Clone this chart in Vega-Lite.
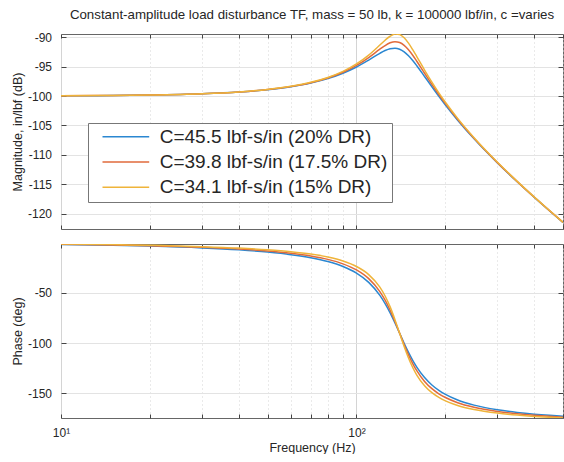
{
  "$schema": "https://vega.github.io/schema/vega-lite/v6.json",
  "padding": {"left": 11, "top": 7, "right": 0, "bottom": 0},
  "background": "white",
  "config": {
    "view": {"stroke": "#666666", "strokeWidth": 1},
    "axis": {"labelFont": "Liberation Sans", "titleFont": "Liberation Sans", "labelColor": "#262626", "titleColor": "#262626", "titleFontWeight": "normal", "labelFontSize": 12, "titleFontSize": 12.5},
    "legend": {"labelFont": "Liberation Sans"}
  },
  "data": {"values": [
    {"s":"C=45.5 lbf-s/in (20% DR)","f":10,"m":-99.959,"p":-1.65},
    {"s":"C=45.5 lbf-s/in (20% DR)","f":15,"m":-99.908,"p":-2.49},
    {"s":"C=45.5 lbf-s/in (20% DR)","f":20,"m":-99.835,"p":-3.34},
    {"s":"C=45.5 lbf-s/in (20% DR)","f":30,"m":-99.626,"p":-5.14},
    {"s":"C=45.5 lbf-s/in (20% DR)","f":40,"m":-99.326,"p":-7.10},
    {"s":"C=45.5 lbf-s/in (20% DR)","f":50,"m":-98.927,"p":-9.31},
    {"s":"C=45.5 lbf-s/in (20% DR)","f":60,"m":-98.421,"p":-11.88},
    {"s":"C=45.5 lbf-s/in (20% DR)","f":70,"m":-97.795,"p":-14.96},
    {"s":"C=45.5 lbf-s/in (20% DR)","f":80,"m":-97.033,"p":-18.78},
    {"s":"C=45.5 lbf-s/in (20% DR)","f":90,"m":-96.123,"p":-23.72},
    {"s":"C=45.5 lbf-s/in (20% DR)","f":100,"m":-95.061,"p":-30.33},
    {"s":"C=45.5 lbf-s/in (20% DR)","f":110,"m":-93.882,"p":-39.52},
    {"s":"C=45.5 lbf-s/in (20% DR)","f":120,"m":-92.728,"p":-52.45},
    {"s":"C=45.5 lbf-s/in (20% DR)","f":125,"m":-92.261,"p":-60.63},
    {"s":"C=45.5 lbf-s/in (20% DR)","f":130,"m":-91.952,"p":-69.90},
    {"s":"C=45.5 lbf-s/in (20% DR)","f":135,"m":-91.868,"p":-79.97},
    {"s":"C=45.5 lbf-s/in (20% DR)","f":140,"m":-92.050,"p":-90.29},
    {"s":"C=45.5 lbf-s/in (20% DR)","f":145,"m":-92.494,"p":-100.23},
    {"s":"C=45.5 lbf-s/in (20% DR)","f":150,"m":-93.152,"p":-109.30},
    {"s":"C=45.5 lbf-s/in (20% DR)","f":155,"m":-93.955,"p":-117.24},
    {"s":"C=45.5 lbf-s/in (20% DR)","f":160,"m":-94.839,"p":-124.00},
    {"s":"C=45.5 lbf-s/in (20% DR)","f":170,"m":-96.668,"p":-134.48},
    {"s":"C=45.5 lbf-s/in (20% DR)","f":180,"m":-98.425,"p":-141.89},
    {"s":"C=45.5 lbf-s/in (20% DR)","f":190,"m":-100.044,"p":-147.27},
    {"s":"C=45.5 lbf-s/in (20% DR)","f":200,"m":-101.520,"p":-151.30},
    {"s":"C=45.5 lbf-s/in (20% DR)","f":220,"m":-104.099,"p":-156.89},
    {"s":"C=45.5 lbf-s/in (20% DR)","f":250,"m":-107.267,"p":-161.96},
    {"s":"C=45.5 lbf-s/in (20% DR)","f":300,"m":-111.368,"p":-166.60},
    {"s":"C=45.5 lbf-s/in (20% DR)","f":350,"m":-114.578,"p":-169.23},
    {"s":"C=45.5 lbf-s/in (20% DR)","f":400,"m":-117.231,"p":-170.95},
    {"s":"C=45.5 lbf-s/in (20% DR)","f":450,"m":-119.500,"p":-172.16},
    {"s":"C=45.5 lbf-s/in (20% DR)","f":500,"m":-121.487,"p":-173.08},
    {"s":"C=39.8 lbf-s/in (17.5% DR)","f":10,"m":-99.958,"p":-1.44},
    {"s":"C=39.8 lbf-s/in (17.5% DR)","f":15,"m":-99.906,"p":-2.18},
    {"s":"C=39.8 lbf-s/in (17.5% DR)","f":20,"m":-99.832,"p":-2.93},
    {"s":"C=39.8 lbf-s/in (17.5% DR)","f":30,"m":-99.618,"p":-4.50},
    {"s":"C=39.8 lbf-s/in (17.5% DR)","f":40,"m":-99.310,"p":-6.22},
    {"s":"C=39.8 lbf-s/in (17.5% DR)","f":50,"m":-98.901,"p":-8.16},
    {"s":"C=39.8 lbf-s/in (17.5% DR)","f":60,"m":-98.378,"p":-10.43},
    {"s":"C=39.8 lbf-s/in (17.5% DR)","f":70,"m":-97.726,"p":-13.16},
    {"s":"C=39.8 lbf-s/in (17.5% DR)","f":80,"m":-96.926,"p":-16.57},
    {"s":"C=39.8 lbf-s/in (17.5% DR)","f":90,"m":-95.955,"p":-21.02},
    {"s":"C=39.8 lbf-s/in (17.5% DR)","f":100,"m":-94.794,"p":-27.11},
    {"s":"C=39.8 lbf-s/in (17.5% DR)","f":110,"m":-93.449,"p":-35.81},
    {"s":"C=39.8 lbf-s/in (17.5% DR)","f":120,"m":-92.035,"p":-48.70},
    {"s":"C=39.8 lbf-s/in (17.5% DR)","f":125,"m":-91.409,"p":-57.24},
    {"s":"C=39.8 lbf-s/in (17.5% DR)","f":130,"m":-90.946,"p":-67.31},
    {"s":"C=39.8 lbf-s/in (17.5% DR)","f":135,"m":-90.748,"p":-78.57},
    {"s":"C=39.8 lbf-s/in (17.5% DR)","f":140,"m":-90.890,"p":-90.33},
    {"s":"C=39.8 lbf-s/in (17.5% DR)","f":145,"m":-91.376,"p":-101.66},
    {"s":"C=39.8 lbf-s/in (17.5% DR)","f":150,"m":-92.135,"p":-111.81},
    {"s":"C=39.8 lbf-s/in (17.5% DR)","f":155,"m":-93.065,"p":-120.47},
    {"s":"C=39.8 lbf-s/in (17.5% DR)","f":160,"m":-94.076,"p":-127.63},
    {"s":"C=39.8 lbf-s/in (17.5% DR)","f":170,"m":-96.117,"p":-138.30},
    {"s":"C=39.8 lbf-s/in (17.5% DR)","f":180,"m":-98.019,"p":-145.54},
    {"s":"C=39.8 lbf-s/in (17.5% DR)","f":190,"m":-99.736,"p":-150.64},
    {"s":"C=39.8 lbf-s/in (17.5% DR)","f":200,"m":-101.279,"p":-154.39},
    {"s":"C=39.8 lbf-s/in (17.5% DR)","f":220,"m":-103.939,"p":-159.52},
    {"s":"C=39.8 lbf-s/in (17.5% DR)","f":250,"m":-107.168,"p":-164.09},
    {"s":"C=39.8 lbf-s/in (17.5% DR)","f":300,"m":-111.313,"p":-168.22},
    {"s":"C=39.8 lbf-s/in (17.5% DR)","f":350,"m":-114.543,"p":-170.55},
    {"s":"C=39.8 lbf-s/in (17.5% DR)","f":400,"m":-117.206,"p":-172.06},
    {"s":"C=39.8 lbf-s/in (17.5% DR)","f":450,"m":-119.481,"p":-173.13},
    {"s":"C=39.8 lbf-s/in (17.5% DR)","f":500,"m":-121.472,"p":-173.94},
    {"s":"C=34.1 lbf-s/in (15% DR)","f":10,"m":-99.957,"p":-1.24},
    {"s":"C=34.1 lbf-s/in (15% DR)","f":15,"m":-99.904,"p":-1.86},
    {"s":"C=34.1 lbf-s/in (15% DR)","f":20,"m":-99.829,"p":-2.51},
    {"s":"C=34.1 lbf-s/in (15% DR)","f":30,"m":-99.611,"p":-3.86},
    {"s":"C=34.1 lbf-s/in (15% DR)","f":40,"m":-99.297,"p":-5.34},
    {"s":"C=34.1 lbf-s/in (15% DR)","f":50,"m":-98.877,"p":-7.01},
    {"s":"C=34.1 lbf-s/in (15% DR)","f":60,"m":-98.340,"p":-8.96},
    {"s":"C=34.1 lbf-s/in (15% DR)","f":70,"m":-97.666,"p":-11.33},
    {"s":"C=34.1 lbf-s/in (15% DR)","f":80,"m":-96.832,"p":-14.31},
    {"s":"C=34.1 lbf-s/in (15% DR)","f":90,"m":-95.804,"p":-18.24},
    {"s":"C=34.1 lbf-s/in (15% DR)","f":100,"m":-94.547,"p":-23.69},
    {"s":"C=34.1 lbf-s/in (15% DR)","f":110,"m":-93.035,"p":-31.74},
    {"s":"C=34.1 lbf-s/in (15% DR)","f":120,"m":-91.331,"p":-44.29},
    {"s":"C=34.1 lbf-s/in (15% DR)","f":125,"m":-90.507,"p":-53.11},
    {"s":"C=34.1 lbf-s/in (15% DR)","f":130,"m":-89.834,"p":-63.99},
    {"s":"C=34.1 lbf-s/in (15% DR)","f":135,"m":-89.470,"p":-76.73},
    {"s":"C=34.1 lbf-s/in (15% DR)","f":140,"m":-89.551,"p":-90.38},
    {"s":"C=34.1 lbf-s/in (15% DR)","f":145,"m":-90.100,"p":-103.53},
    {"s":"C=34.1 lbf-s/in (15% DR)","f":150,"m":-91.007,"p":-115.03},
    {"s":"C=34.1 lbf-s/in (15% DR)","f":155,"m":-92.112,"p":-124.47},
    {"s":"C=34.1 lbf-s/in (15% DR)","f":160,"m":-93.286,"p":-131.97},
    {"s":"C=34.1 lbf-s/in (15% DR)","f":170,"m":-95.574,"p":-142.63},
    {"s":"C=34.1 lbf-s/in (15% DR)","f":180,"m":-97.633,"p":-149.53},
    {"s":"C=34.1 lbf-s/in (15% DR)","f":190,"m":-99.450,"p":-154.23},
    {"s":"C=34.1 lbf-s/in (15% DR)","f":200,"m":-101.058,"p":-157.68},
    {"s":"C=34.1 lbf-s/in (15% DR)","f":220,"m":-103.795,"p":-162.25},
    {"s":"C=34.1 lbf-s/in (15% DR)","f":250,"m":-107.081,"p":-166.27},
    {"s":"C=34.1 lbf-s/in (15% DR)","f":300,"m":-111.265,"p":-169.87},
    {"s":"C=34.1 lbf-s/in (15% DR)","f":350,"m":-114.511,"p":-171.88},
    {"s":"C=34.1 lbf-s/in (15% DR)","f":400,"m":-117.184,"p":-173.19},
    {"s":"C=34.1 lbf-s/in (15% DR)","f":450,"m":-119.464,"p":-174.11},
    {"s":"C=34.1 lbf-s/in (15% DR)","f":500,"m":-121.459,"p":-174.80}
  ]},
  "spacing": 13,
  "resolve": {"legend": {"color": "independent"}},
  "vconcat": [
    {
      "width": 502,
      "height": 195,
      "title": {"text": "Constant-amplitude load disturbance TF, mass = 50 lb, k = 100000 lbf/in, c =varies", "font": "Liberation Sans", "fontSize": 13.3, "fontWeight": "normal", "color": "#262626", "offset": 10},
      "layer": [
        {
          "mark": {"type": "line", "strokeWidth": 1.5, "clip": true, "interpolate": "monotone"},
          "encoding": {
            "x": {"field": "f", "type": "quantitative", "scale": {"type": "log", "domain": [10, 500], "nice": false},
              "axis": {"orient": "bottom", "values": [10,20,30,40,50,60,70,80,90,100,200,300,400,500], "labels": false, "title": null, "domain": false, "tickSize": -4, "tickColor": "#444444", "grid": true, "gridColor": "#d4d4d4",
                "gridDash": {"condition": {"test": "datum.value == 100 || datum.value == 10", "value": []}, "value": [1, 3]}}},
            "y": {"field": "m", "type": "quantitative", "scale": {"domain": [-122.6, -89.45], "nice": false, "zero": false},
              "axis": {"orient": "left", "values": [-120,-115,-110,-105,-100,-95,-90], "labelExpr": "replace(datum.label, '−', '-')", "title": "Magnitude, in/lbf (dB)", "domain": false, "tickSize": -5, "tickColor": "#444444", "labelPadding": 14.5, "titlePadding": 2.5, "grid": true, "gridColor": "#e3e3e3"}},
            "color": {"field": "s", "type": "nominal",
              "scale": {"domain": ["C=45.5 lbf-s/in (20% DR)", "C=39.8 lbf-s/in (17.5% DR)", "C=34.1 lbf-s/in (15% DR)"], "range": ["#2B87D1", "#E06A3B", "#EFB43A"]},
              "legend": {"orient": "none", "legendX": 27, "legendY": 89, "title": null, "symbolType": "M0.16,0H9.5", "symbolSize": 100, "symbolStrokeWidth": 1.5, "labelFontSize": 19, "labelColor": "#262626", "labelLimit": 500, "labelOffset": 48.5, "padding": 4.2, "rowPadding": 5.3, "strokeColor": "#777777", "fillColor": "white", "cornerRadius": 0}}
          }
        },
        {
          "mark": {"type": "line", "opacity": 0, "clip": true},
          "encoding": {
            "x": {"field": "f", "type": "quantitative", "scale": {"type": "log", "domain": [10, 500], "nice": false},
              "axis": {"orient": "top", "values": [10,20,30,40,50,60,70,80,90,100,200,300,400,500], "labels": false, "title": null, "domain": false, "tickSize": -4, "tickColor": "#444444", "grid": false}},
            "y": {"field": "m", "type": "quantitative", "scale": {"domain": [-122.6, -89.45], "nice": false, "zero": false},
              "axis": {"orient": "right", "values": [-120,-115,-110,-105,-100,-95,-90], "labels": false, "title": null, "domain": false, "tickSize": -5, "tickColor": "#444444", "grid": false}},
            "detail": {"field": "s"}
          }
        }
      ],
      "resolve": {"axis": {"x": "independent", "y": "independent"}}
    },
    {
      "width": 502,
      "height": 174,
      "layer": [
        {
          "mark": {"type": "line", "strokeWidth": 1.5, "clip": true, "interpolate": "monotone"},
          "encoding": {
            "x": {"field": "f", "type": "quantitative", "scale": {"type": "log", "domain": [10, 500], "nice": false},
              "axis": {"orient": "bottom", "values": [10,20,30,40,50,60,70,80,90,100,200,300,400,500], "labelExpr": "datum.value == 10 ? '10¹' : datum.value == 100 ? '10²' : ''", "title": "Frequency  (Hz)", "domain": false, "tickSize": -4, "tickColor": "#444444", "labelPadding": 13, "titlePadding": 3, "labelFlush": false, "labelOverlap": false, "grid": true, "gridColor": "#d4d4d4",
                "gridDash": {"condition": {"test": "datum.value == 100 || datum.value == 10", "value": []}, "value": [1, 3]}}},
            "y": {"field": "p", "type": "quantitative", "scale": {"domain": [-174.8, -1.24], "nice": false, "zero": false},
              "axis": {"orient": "left", "values": [-150, -100, -50], "labelExpr": "replace(datum.label, '−', '-')", "title": "Phase (deg)", "domain": false, "tickSize": -5, "tickColor": "#444444", "labelPadding": 14.5, "titlePadding": 2.5, "grid": true, "gridColor": "#e3e3e3"}},
            "color": {"field": "s", "type": "nominal",
              "scale": {"domain": ["C=45.5 lbf-s/in (20% DR)", "C=39.8 lbf-s/in (17.5% DR)", "C=34.1 lbf-s/in (15% DR)"], "range": ["#2B87D1", "#E06A3B", "#EFB43A"]},
              "legend": null}
          }
        },
        {
          "mark": {"type": "line", "opacity": 0, "clip": true},
          "encoding": {
            "x": {"field": "f", "type": "quantitative", "scale": {"type": "log", "domain": [10, 500], "nice": false},
              "axis": {"orient": "top", "values": [10,20,30,40,50,60,70,80,90,100,200,300,400,500], "labels": false, "title": null, "domain": false, "tickSize": -4, "tickColor": "#444444", "grid": false}},
            "y": {"field": "p", "type": "quantitative", "scale": {"domain": [-174.8, -1.24], "nice": false, "zero": false},
              "axis": {"orient": "right", "values": [-150, -100, -50], "labels": false, "title": null, "domain": false, "tickSize": -5, "tickColor": "#444444", "grid": false}},
            "detail": {"field": "s"}
          }
        }
      ],
      "resolve": {"axis": {"x": "independent", "y": "independent"}}
    }
  ]
}
